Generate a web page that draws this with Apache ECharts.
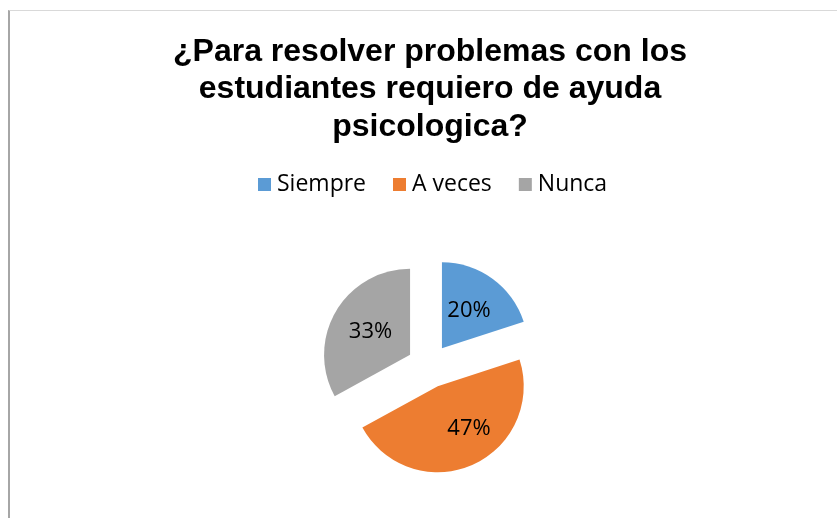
<!DOCTYPE html>
<html>
<head>
<meta charset="utf-8">
<script src="https://cdn.jsdelivr.net/npm/echarts/dist/echarts.min.js"></script>
<style>
  html, body { margin: 0; padding: 0; background: #fff; }
  #frame { position: absolute; left: 8px; top: 10px; width: 829px; height: 508px;
           border-top: 1px solid #d9d9d9; border-left: 2px solid #a6a6a6; box-sizing: border-box; }
  #main { position: absolute; left: 0; top: 0; width: 837px; height: 518px; }
</style>
</head>
<body>
<div id="frame"></div>
<div id="main"></div>
<script>
  // datos del grafico
  const titulo = ['¿Para resolver problemas con los', 'estudiantes requiero de ayuda', 'psicologica?']
  const categorias = ['Siempre', 'A veces', 'Nunca']
  const valores = [20, 47, 33]
  const colores = ['#5B9BD5', '#ED7D31', '#A5A5A5']

  let myChart = echarts.init(document.getElementById('main'))

  let option = {
    animation: false,
    title: {
      text: titulo.join('\n'),
      left: 430,
      top: 33,
      padding: 0,
      textAlign: 'center',
      textStyle: {
        fontFamily: 'Liberation Sans',
        fontWeight: 'bold',
        fontSize: 32,
        lineHeight: 37.5,
        color: '#000'
      }
    },
    legend: {
      data: categorias,
      left: 258,
      top: 173,
      padding: 0,
      icon: 'rect',
      itemWidth: 13,
      itemHeight: 13,
      itemGap: 27,
      selectedMode: false,
      textStyle: { fontFamily: 'Open Sans', fontSize: 23, color: '#000', padding: [0, 0, 0, 1] }
    },
    series: [{
      type: 'pie',
      center: [429, 366],
      radius: 86,
      startAngle: 90,
      selectedMode: 'multiple',
      selectedOffset: 22,
      percentPrecision: 0,
      label: {
        show: true,
        position: 'inside',
        formatter: '{d}%',
        fontFamily: 'Open Sans',
        fontSize: 22,
        color: '#000'
      },
      labelLine: { show: false },
      emphasis: { disabled: true },
      data: categorias.map((c, i) => ({
        name: c,
        value: valores[i],
        selected: true,
        itemStyle: { color: colores[i] },
        // la etiqueta de "A veces" va un poco arriba a la derecha, como en Excel
        label: i === 1 ? { padding: [0, 0, 10, 26], verticalAlign: 'middle' } : {}
      }))
    }]
  }

  myChart.setOption(option)
</script>
</body>
</html>
